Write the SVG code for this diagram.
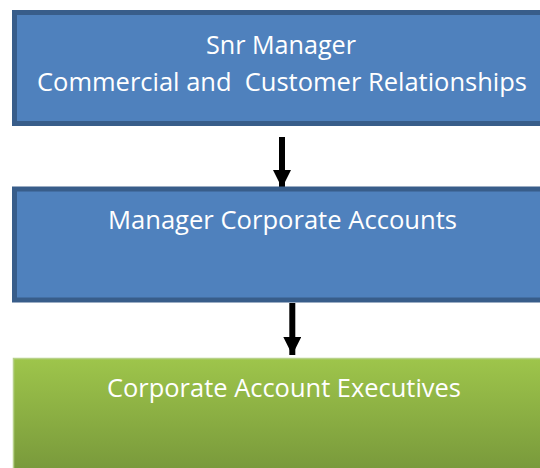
<svg xmlns="http://www.w3.org/2000/svg" width="540" height="468" viewBox="0 0 540 468">
  <defs>
    <linearGradient id="greenFill" x1="0" y1="0" x2="0" y2="1">
      <stop offset="0" stop-color="#9ec54b"/>
      <stop offset="1" stop-color="#76963a"/>
    </linearGradient>
    <marker id="head" markerUnits="userSpaceOnUse" markerWidth="18" markerHeight="18" viewBox="0 0 18 18" refX="18" refY="9" orient="auto">
      <path d="M0,0 L18,9 L0,18 Z" fill="#000"/>
    </marker>
  </defs>
  <style>
    .blue { fill: #4f81bd; stroke: #385d8a; stroke-width: 5; }
    .green { fill: url(#greenFill); stroke: #b7d18a; stroke-width: 1.5; }
    .label { font-family: "Open Sans", "Liberation Sans", sans-serif; font-size: 25px; fill: #ffffff; text-anchor: middle; }
    .link { stroke: #000; stroke-width: 6; fill: none; marker-end: url(#head); }
  </style>
  <rect width="540" height="468" fill="#ffffff"/>

  <g id="connectors">
    <line class="link" x1="282" y1="137" x2="282" y2="188"/>
    <line class="link" x1="292.3" y1="303" x2="292.3" y2="355"/>
  </g>

  <g id="snr-manager">
    <rect class="blue" x="14.5" y="12.5" width="540" height="111"/>
    <text class="label" x="281" y="53.5" textLength="150" lengthAdjust="spacingAndGlyphs">Snr Manager</text>
    <text class="label" x="282" y="91" textLength="490" lengthAdjust="spacingAndGlyphs" xml:space="preserve">Commercial and  Customer Relationships</text>
  </g>

  <g id="manager-corporate-accounts">
    <rect class="blue" x="14.5" y="189" width="540" height="111"/>
    <text class="label" x="282.5" y="229" textLength="349" lengthAdjust="spacingAndGlyphs">Manager Corporate Accounts</text>
  </g>

  <g id="corporate-account-executives">
    <rect class="green" x="13.5" y="358.5" width="540" height="120"/>
    <text class="label" x="284" y="397.3" textLength="354" lengthAdjust="spacingAndGlyphs">Corporate Account Executives</text>
  </g>
</svg>
